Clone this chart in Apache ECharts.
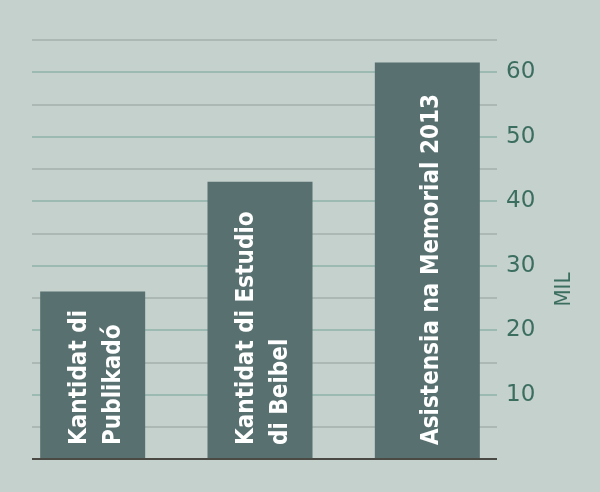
<!DOCTYPE html>
<html>
<head>
<meta charset="utf-8">
<script src="https://cdn.jsdelivr.net/npm/echarts@6/dist/echarts.min.js"></script>
<style>
  html, body { margin: 0; padding: 0; background: #c5d1cd; }
  #chart { width: 600px; height: 492px; }
</style>
</head>
<body>
<div id="chart"></div>
<script>
// data
const categories = ['Kantidat di\nPublikadó', 'Kantidat di Estudio\ndi Beibel', 'Asistensia na Memorial 2013'];
const values = [26, 43, 61.5];
const yTicks = [10, 20, 30, 40, 50, 60];

const labelColor = '#3c6e60';
const narrow = '"DejaVu Sans Condensed", "Roboto", sans-serif';
const chart = echarts.init(document.getElementById('chart'));

let option = {
	backgroundColor: '#c5d1cd',
	animation: false,
	grid: [
		// bars
		{ left: 9, right: 89, top: 40, bottom: 33 },
		// gridlines + value axis
		{ left: 32, right: 103, top: 40, bottom: 33 }
	],
	xAxis: [
		{
			type: 'category',
			gridIndex: 0,
			data: categories,
			axisLine: { show: false },
			axisTick: { show: false },
			axisLabel: { show: false }
		},
		{
			type: 'value',
			gridIndex: 1,
			min: 0, max: 1,
			axisLine: { show: false },
			axisTick: { show: false },
			axisLabel: { show: false },
			splitLine: { show: false }
		}
	],
	yAxis: [
		{
			type: 'value',
			gridIndex: 0,
			min: 0, max: 65,
			show: false
		},
		{
			type: 'value',
			gridIndex: 1,
			position: 'right',
			min: 0, max: 65, interval: 5,
			name: 'MIL',
			nameLocation: 'middle',
			nameRotate: 90,
			nameGap: 56,
			nameTextStyle: {
				color: labelColor,
				fontFamily: narrow,
				fontSize: 22,
				padding: [0, 80, 0, 0]
			},
			axisLine: { show: false },
			axisTick: { show: false },
			axisLabel: {
				margin: 9,
				color: labelColor,
				fontFamily: 'DejaVu Sans',
				fontSize: 23,
				formatter: (v)=> yTicks.indexOf(v) >= 0 ? String(v) : ''
			},
			splitLine: {
				lineStyle: {
					width: 2,
					color: ['#c5d1cd', '#abb8b3', '#9dbab2', '#abb8b3', '#9dbab2', '#abb8b3',
						'#9dbab2', '#abb8b3', '#9dbab2', '#abb8b3', '#9dbab2', '#abb8b3', '#9dbab2', '#abb8b3']
				}
			}
		}
	],
	series: [
		{
			type: 'bar',
			xAxisIndex: 0,
			yAxisIndex: 0,
			data: values,
			barWidth: 105,
			itemStyle: { color: '#587170' },
			label: {
				show: true,
				position: 'insideBottom',
				rotate: 90,
				align: 'left',
				verticalAlign: 'middle',
				distance: 14,
				offset: [0, 4],
				color: '#ffffff',
				fontFamily: narrow,
				fontWeight: 'bold',
				fontSize: 24,
				lineHeight: 34,
				formatter: (p)=> categories[p.dataIndex]
			}
		},
		{
			// baseline
			type: 'line',
			xAxisIndex: 1,
			yAxisIndex: 1,
			data: [],
			markLine: {
				silent: true,
				symbol: 'none',
				label: { show: false },
				lineStyle: { color: '#4a4943', width: 2, type: 'solid' },
				data: [[{ coord: [0, 0] }, { coord: [1, 0] }]]
			},
			z: 5
		}
	]
};
chart.setOption(option);
</script>
</body>
</html>
